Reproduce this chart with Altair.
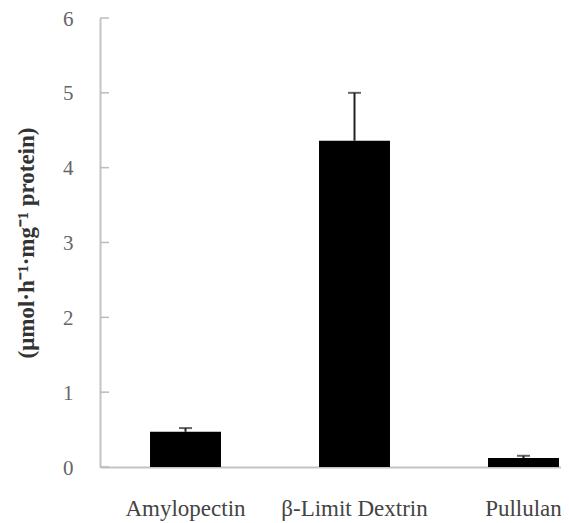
import altair as alt
import pandas as pd

categories = ["Amylopectin", "β-Limit Dextrin", "Pullulan"]
values = [0.47, 4.36, 0.12]
errors = [0.05, 0.64, 0.03]
y_ticks = [0, 1, 2, 3, 4, 5, 6]

df = pd.DataFrame({
    "cat": categories,
    "val": values,
    "top": [v + e for v, e in zip(values, errors)],
})
ticks_df = pd.DataFrame({"t": y_ticks})

SERIF = "Liberation Serif"

x_enc = alt.X(
    "cat:N",
    sort=categories,
    scale=alt.Scale(range=[0, 509], paddingInner=0.58, paddingOuter=0.296),
    axis=alt.Axis(
        title=None, labelAngle=0, ticks=False, domainColor="#c4c4c4",
        domainWidth=2, labelFont=SERIF, labelFontSize=23, labelColor="#444",
        labelPadding=30, labelBaseline="top",
    ),
)
y_scale = alt.Scale(domain=[0, 6], nice=False)

bars = alt.Chart(df).mark_bar(color="black").encode(
    x=x_enc,
    y=alt.Y(
        "val:Q", scale=y_scale,
        axis=alt.Axis(
            title="(μmol·h⁻¹·mg⁻¹ protein)", values=y_ticks, format="d",
            ticks=False, grid=False, domainColor="#c4c4c4", domainWidth=2,
            labelFont=SERIF, labelFontSize=21, labelColor="#666",
            labelPadding=27, labelOffset=1, titleFont=SERIF, titleFontSize=23,
            titleFontWeight="bold", titleColor="#333", titlePadding=24,
        ),
    ),
)

stems = alt.Chart(df).mark_rule(color="#222", strokeWidth=2).encode(
    x=alt.X("cat:N", sort=categories),
    y="val:Q",
    y2="top:Q",
)

caps = alt.Chart(df).mark_tick(color="#222", size=13, thickness=2).encode(
    x=alt.X("cat:N", sort=categories),
    y="top:Q",
)

inner_ticks = alt.Chart(ticks_df).mark_rule(color="#bbbbbb", strokeWidth=1.5).encode(
    y=alt.Y("t:Q", scale=y_scale),
    x=alt.value(0),
    x2=alt.value(9),
)

chart = alt.layer(bars, inner_ticks, stems, caps).properties(
    width=461,
    height=449,
    autosize=alt.AutoSizeParams(type="none"),
    padding={"left": 92, "top": 10, "right": 0, "bottom": 56},
).configure_view(stroke=None)

chart.save("out.html", embed_options={"renderer": "svg", "actions": False})
